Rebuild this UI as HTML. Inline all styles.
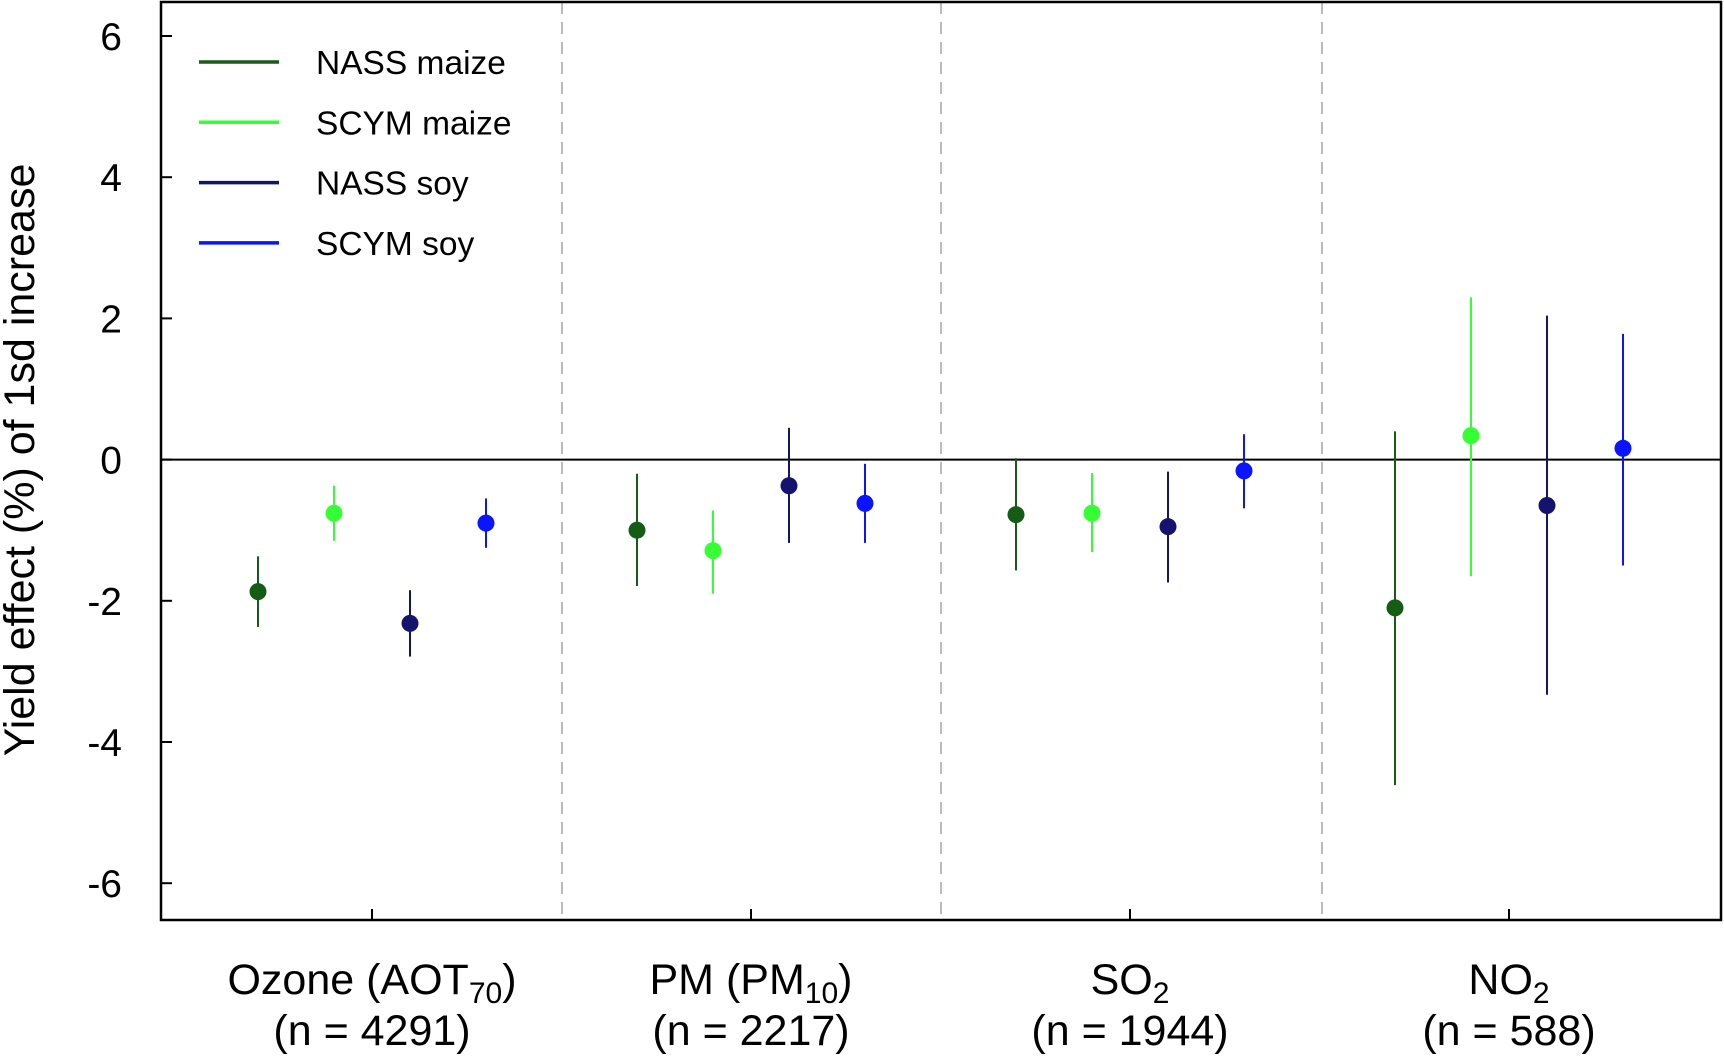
<!DOCTYPE html>
<html><head><meta charset="utf-8"><style>
html,body{margin:0;padding:0;background:#fff;}
svg{display:block;font-family:"Liberation Sans",Arial,sans-serif;}
</style></head><body>
<svg id="chart" width="1724" height="1056" viewBox="0 0 1724 1056">
<g id="axes"></g><g id="marks"></g><g id="legend"></g>
</svg>
<script>
const groups = ["Ozone (AOT70)", "PM (PM10)", "SO2", "NO2"];
const groupN = ["(n = 4291)", "(n = 2217)", "(n = 1944)", "(n = 588)"];
const seriesNames = ["NASS maize", "SCYM maize", "NASS soy", "SCYM soy"];
const seriesColors = ["#155c15", "#33ff33", "#14146e", "#0a14ff"];
const nassMaize = [-1.87, -1.0, -0.78, -2.1];
const nassMaizeLo = [-2.37, -1.79, -1.57, -4.61];
const nassMaizeHi = [-1.37, -0.2, 0.02, 0.4];
const scymMaize = [-0.76, -1.29, -0.76, 0.34];
const scymMaizeLo = [-1.15, -1.9, -1.31, -1.65];
const scymMaizeHi = [-0.37, -0.72, -0.19, 2.3];
const nassSoy = [-2.32, -0.37, -0.95, -0.65];
const nassSoyLo = [-2.79, -1.18, -1.74, -3.33];
const nassSoyHi = [-1.85, 0.45, -0.17, 2.04];
const scymSoy = [-0.9, -0.62, -0.16, 0.16];
const scymSoyLo = [-1.25, -1.18, -0.69, -1.5];
const scymSoyHi = [-0.55, -0.06, 0.36, 1.78];
const yTicks = [6, 4, 2, 0, -2, -4, -6];

const NS="http://www.w3.org/2000/svg";
const L=161,R=1721,T=2,B=920;
const y0px=459.6, perUnit=70.6;
function yS(v){return y0px - v*perUnit;}
function xS(g,s){return 372+(751-372)*g + (s-1.5)*76;}
function mk(tag,attrs,parent){const e=document.createElementNS(NS,tag);for(const k in attrs)e.setAttribute(k,attrs[k]);parent.appendChild(e);return e;}
const axes=document.getElementById('axes'),marks=document.getElementById('marks'),leg=document.getElementById('legend');

[562,941,1322].forEach(x=>{
  const l=mk('line',{x1:x,x2:x,y1:T,y2:B,stroke:'#bbb','stroke-width':2,'stroke-dasharray':'12,8'},axes);
  
  
});
const z=mk('line',{x1:L,x2:R,y1:yS(0),y2:yS(0),stroke:'#000','stroke-width':2},axes);


const fr=mk('rect',{x:L,y:T,width:R-L,height:B-T,fill:'none',stroke:'#000','stroke-width':2.5},axes);


yTicks.forEach(v=>{
  const y=yS(v);
  const t=mk('line',{x1:L,x2:L+11,y1:y,y2:y,stroke:'#000','stroke-width':2},axes);
  
  
  const tx=mk('text',{x:122,y:y+14,'text-anchor':'end','font-size':39},axes);
  tx.textContent=v;
  
  
});
const yt=mk('text',{x:0,y:0,'text-anchor':'middle','font-size':43,transform:'translate(34,460) rotate(-90)'},axes);
yt.textContent='Yield effect (%) of 1sd increase';


groups.forEach((g,i)=>{
  const cx=372+(751-372)*i;
  const t=mk('line',{x1:cx,x2:cx,y1:B,y2:B-11,stroke:'#000','stroke-width':2},axes);
  
  
  const tx=mk('text',{x:cx,y:994,'text-anchor':'middle','font-size':43},axes);
  
  
  const m=g.match(/^(.*?)(\d+)(\)?)$/);
  if(m){
    tx.appendChild(document.createTextNode(m[1]));
    const s=mk('tspan',{'font-size':30,dy:9},tx);s.textContent=m[2];
    if(m[3]){const s2=mk('tspan',{dy:-9},tx);s2.textContent=m[3];}
  } else tx.textContent=g;
  const tn=mk('text',{x:cx,y:1045,'text-anchor':'middle','font-size':43},axes);
  tn.textContent=groupN[i];
  
  
});
const S=[[nassMaize,nassMaizeLo,nassMaizeHi],[scymMaize,scymMaizeLo,scymMaizeHi],[nassSoy,nassSoyLo,nassSoyHi],[scymSoy,scymSoyLo,scymSoyHi]];
S.forEach((ser,s)=>{
  groups.forEach((g,i)=>{
    const x=xS(i,s);
    const l=mk('line',{x1:x,x2:x,y1:yS(ser[1][i]),y2:yS(ser[2][i]),stroke:seriesColors[s],'stroke-width':2},marks);
    
    
    const c=mk('circle',{cx:x,cy:yS(ser[0][i]),r:8.5,fill:seriesColors[s]},marks);
    
    
  });
});
seriesNames.forEach((n,i)=>{
  const y=62+60.3*i;
  const l=mk('line',{x1:199,x2:279,y1:y,y2:y,stroke:seriesColors[i],'stroke-width':3.5},leg);
  
  
  const t=mk('text',{x:316,y:y+12,'font-size':33.5},leg);
  t.textContent=n;
  
  
});
</script>
</body></html>
